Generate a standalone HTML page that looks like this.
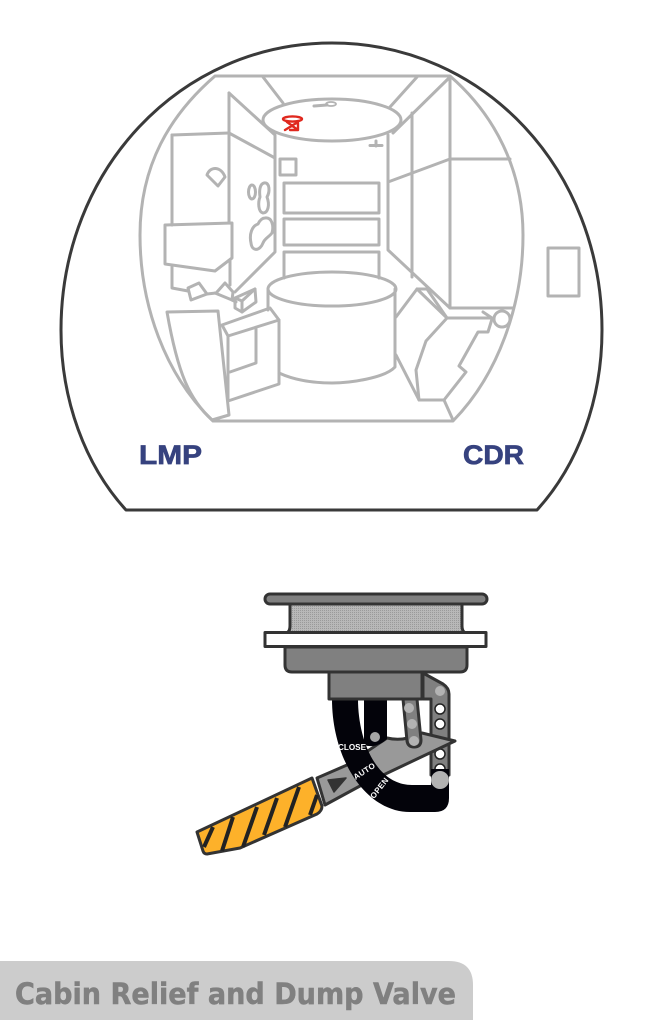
<!DOCTYPE html>
<html>
<head>
<meta charset="utf-8">
<style>
html,body{margin:0;padding:0;background:#fff}
svg{display:block}
.g{fill:none;stroke:#b3b3b3;stroke-width:3;stroke-linejoin:round;stroke-linecap:round}
.v{stroke:#333;stroke-width:3;stroke-linejoin:round}
</style>
</head>
<body>
<svg width="663" height="1020" viewBox="0 0 663 1020" xmlns="http://www.w3.org/2000/svg">
<defs>
<pattern id="mesh" width="2" height="2" patternUnits="userSpaceOnUse">
<rect width="2" height="2" fill="#b8b8b8"/>
<rect width="1" height="1" fill="#9a9a9a"/>
</pattern>
</defs>

<!-- dome -->
<path d="M126 510 C85 465 61 400 61 330 C61 170 180 43 332 43 C484 43 602 170 602 330 C602 400 578 465 537 510 Z" fill="#fff" stroke="#3a3a3a" stroke-width="3" stroke-linejoin="round"/>

<!-- window outline -->
<g class="g">
<path d="M213 421 C165 375 140 305 140 235 C140 165 170 115 215 76 L450 76 C495 115 523 170 523 235 C523 305 498 375 453 421 Z"/>

<!-- ceiling -->
<ellipse cx="332" cy="120" rx="69" ry="21"/>
<path d="M263 77 L283 103"/>
<path d="M417 77 L390 107"/>
<path d="M450 77 L393 133"/>
<path d="M314 106 L327 105"/>
<ellipse cx="331" cy="104" rx="5" ry="2" stroke-width="1.800"/>
<path d="M376 141 V146 M370 145.500 H382"/>

<!-- right wall -->
<path d="M388 135 V250 L450 308 H513"/>
<path d="M412 113 V277"/>
<path d="M450 77 V308"/>
<path d="M388 182 L450 159 H510"/>

<!-- left wall -->
<path d="M229 93 L275 135 V252 L235 292"/>
<path d="M229 93 V223"/>
<path d="M229 133 L275 158"/>
<path d="M172 135 L229 133"/>
<path d="M172 135 V225"/>
<path d="M165 225 L232 223 V258 L215 271 L165 264 Z"/>
<path d="M172 267 V288 L188 291"/>
<path d="M230 260 V285"/>
<path d="M207 175 C210 166 221 166 225 177 L218 186 Z"/>
<ellipse cx="252" cy="192" rx="3.500" ry="7"/>
<path d="M264 183 C270 182 270 192 267 197 C270 205 268 213 263 213 C258 212 258 202 260 197 C259 190 260 184 264 183 Z"/>
<path d="M265 218 C272 217 274 226 272 233 C268 238 265 238 263 243 C260 251 252 252 251 243 C249 234 252 226 258 224 C260 220 262 218 265 218 Z"/>

<!-- shelves -->
<rect x="280" y="159" width="16" height="16"/>
<rect x="284" y="183" width="95" height="30"/>
<rect x="284" y="219" width="95" height="26"/>
<path d="M284 278 V252 H379 V278"/>

<!-- cylinder -->
<path d="M268 310 V289 M395 289 V367 C385 378 350 383 332 383 C310 383 292 379 279 373"/>
<ellipse cx="332" cy="289" rx="64" ry="17"/>

<!-- small boxes -->
<path d="M188 288 L199 283 L207 294 L191 300 Z"/>
<path d="M207 294 L216 293"/>
<path d="M217 292 L225 283 L233 292 L232 300 L215 293"/>
<path d="M232 300 L236 302"/>
<path d="M235 298 L255 289 L256 302 L242 312 L235 308 Z"/>
<path d="M235 298 L242 301 L255 289 M242 301 V312"/>

<!-- left cabinet -->
<path d="M167 312 L218 311 L229 415 L212 420 C190 400 178 375 167 312 Z"/>

<!-- middle box -->
<path d="M222 325 L270 308 L279 320 V384 L228 401 V336 L222 325 Z"/>
<path d="M228 336 L279 320"/>
<path d="M256 329 V363 L230 372"/>

<!-- right chair -->
<path d="M396 317 L417 289 H427 L447 318 H492"/>
<path d="M417 289 L447 318 L426 341 L416 370 L419 400 H444 L466 372 L459 366 L478 332 H488 L492 319"/>
<path d="M396 355 L419 400"/>
<path d="M444 400 L453 420"/>
<path d="M483 312 L492 318"/>
<circle cx="502" cy="319" r="8"/>

<rect x="548" y="248" width="31" height="48"/>
</g>

<!-- red marker -->
<g fill="none" stroke="#e0281e" stroke-width="2.400" stroke-linejoin="round" stroke-linecap="round">
<ellipse cx="292.500" cy="119" rx="9.500" ry="2.600"/>
<path d="M287 122 L298 130 M298 122 L285 130 M298 123 V130 H290"/>
</g>

<g font-family="'Liberation Sans',sans-serif" font-weight="700" font-size="27" fill="#36427f" stroke="#36427f" stroke-width="0.700">
<text x="139" y="464" textLength="63" lengthAdjust="spacingAndGlyphs">LMP</text>
<text x="463" y="464" textLength="61" lengthAdjust="spacingAndGlyphs">CDR</text>
</g>

<!-- valve head -->
<path class="v" d="M290 604 V626 Q290 632 286 633 H466 Q462 632 462 626 V604 Z" fill="url(#mesh)"/>
<rect class="v" x="265" y="594" width="222" height="10" rx="5" fill="#808080"/>
<rect class="v" x="265" y="632.500" width="221" height="14" fill="#fff"/>
<path class="v" d="M285 647 H467 V665 Q467 672 460 672 H292 Q285 672 285 665 Z" fill="#808080"/>

<!-- plate -->
<path class="v" d="M423 673 L443 684 Q449 688 449 694 V775 H431 V699 H423 Z" fill="#808080"/>
<circle cx="440" cy="691" r="5" fill="#b3b3b3"/>
<circle cx="440" cy="709" r="5" fill="#fff" stroke="#222" stroke-width="1.500"/>
<circle cx="440" cy="724" r="5" fill="#fff" stroke="#222" stroke-width="1.500"/>
<circle cx="440" cy="754" r="5" fill="#fff" stroke="#222" stroke-width="1.500"/>
<circle cx="440" cy="769" r="5" fill="#fff" stroke="#222" stroke-width="1.500"/>

<!-- handle body -->
<path class="v" d="M455 741 L422 733 Q404 742 387 738 L347 765 L317 778 L325 805 L360 786 Z" fill="#999"/>
<path d="M328 780 L346 778 L334 792 Z" fill="#333" stroke="#333" stroke-width="1.500" stroke-linejoin="round"/>

<!-- small black slot -->
<path d="M364 699 H387 V739 Q376 749 364 745 Z" fill="#03030a"/>
<circle cx="375" cy="737" r="5" fill="#a6a6a6"/>

<!-- black U band -->
<path d="M332 699 H358 C358 740 376 785 412 785 H431 V769 H449 V798 Q449 812 435 812 H410 C366 812 332 760 332 699 Z" fill="#03030a"/>
<circle cx="440" cy="780" r="9" fill="#b3b3b3"/>

<!-- block -->
<rect class="v" x="329" y="672" width="93" height="27" fill="#808080"/>

<!-- link arm -->
<path class="v" d="M403 699 H417 L421 740 Q421 747 414 747 Q408 747 407 741 Z" fill="#808080"/>
<circle cx="409" cy="708" r="5" fill="#b3b3b3"/>
<circle cx="412" cy="724" r="5" fill="#b3b3b3"/>
<circle cx="414" cy="741" r="5" fill="#b3b3b3"/>

<!-- yellow grip -->
<path class="v" d="M197 832 L312 778 L322 806 Q322 811 317 814 L240 848 L207 854 Q204 854 203 851 Z" fill="#fdb12a"/>
<g stroke="#222" stroke-width="4" fill="none">
<path d="M213 827 L204 847"/>
<path d="M233 817 L222 851"/>
<path d="M257 807 L243 847"/>
<path d="M277 798 L264 835"/>
<path d="M299 787 L285 827"/>
<path d="M317 795 L310 815"/>
</g>

<!-- band labels -->
<g font-family="'Liberation Sans',sans-serif" font-weight="700" font-size="8" fill="#fff">
<text x="338" y="750" textLength="28" lengthAdjust="spacingAndGlyphs">CLOSE</text>
<text transform="translate(364 771) rotate(-33)" text-anchor="middle" y="3" textLength="24" lengthAdjust="spacing">AUTO</text>
<text transform="translate(379 788) rotate(-52)" text-anchor="middle" y="3" textLength="24" lengthAdjust="spacing">OPEN</text>
</g>

<!-- title tab -->
<path d="M0 961 H449 Q473 961 473 985 V1020 H0 Z" fill="#ccc"/>
<text x="15" y="1004" font-family="'DejaVu Sans','Liberation Sans',sans-serif" font-weight="700" font-size="29" fill="#808080" stroke="#808080" stroke-width="0.500" textLength="441" lengthAdjust="spacingAndGlyphs">Cabin Relief and Dump Valve</text>
</svg>
</body>
</html>
